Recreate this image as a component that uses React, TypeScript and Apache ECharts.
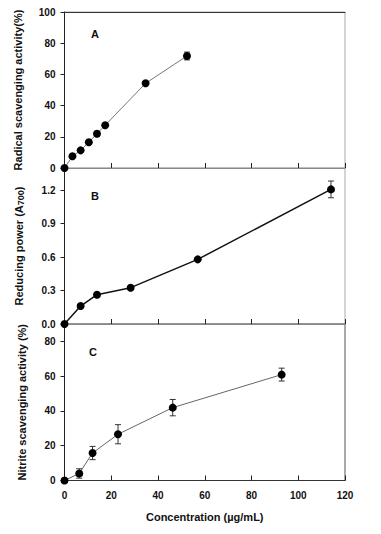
import React, { useEffect, useRef } from "react";
import * as echarts from "echarts";

const concA = [0, 3.4, 6.9, 10.4, 13.9, 17.4, 34.7, 52.4];
const radical = [0, 7.5, 11.3, 16.5, 22, 27.4, 54.3, 71.8];
const errA = [0.5, 1, 1, 1, 1.5, 1, 1, 2.5];

const concB = [0, 6.9, 13.9, 28.3, 57, 114];
const reducing = [0, 0.161, 0.263, 0.326, 0.58, 1.208];
const errB = [0.005, 0.01, 0.012, 0.012, 0.015, 0.075];

const concC = [0, 6.3, 12, 22.9, 46.3, 92.9];
const nitrite = [0, 4.05, 15.8, 26.6, 41.9, 60.9];
const errC = [0.5, 2.7, 3.8, 5.5, 4.7, 3.7];

const FONT = "Liberation Sans, Arial, sans-serif";

function errRender(params: any, api: any) {
  const x = api.value(0);
  const lo = api.coord([x, api.value(1)]);
  const hi = api.coord([x, api.value(2)]);
  const w = 3;
  const style = { stroke: "#333", lineWidth: 1 };
  return {
    type: "group",
    children: [
      { type: "line", shape: { x1: lo[0], y1: lo[1], x2: hi[0], y2: hi[1] }, style },
      { type: "line", shape: { x1: lo[0] - w, y1: lo[1], x2: lo[0] + w, y2: lo[1] }, style },
      { type: "line", shape: { x1: hi[0] - w, y1: hi[1], x2: hi[0] + w, y2: hi[1] }, style },
    ],
  };
}

export default function App() {
  const ref = useRef<HTMLDivElement>(null);
  useEffect(() => {
    if (!ref.current) return;
    const chart = echarts.init(ref.current, null, { renderer: "svg" });
    const tickLabel = { fontFamily: FONT, fontWeight: "bold", fontSize: 10, color: "#111" };
    const xAxisBase = (gi: number, showLabels: boolean, lineColor: string) => ({
      type: "value",
      gridIndex: gi,
      min: 0,
      max: 120,
      interval: 20,
      splitLine: { show: false },
      axisLine: { show: true, lineStyle: { color: lineColor, width: 1 } },
      axisTick: { show: true, inside: true, length: 5, lineStyle: { color: "#222" } },
      axisLabel: showLabels
        ? { ...tickLabel, margin: 10, showMaxLabel: true }
        : { show: false },
    });
    const yAxisBase = (gi: number, max: number, interval: number, name: any, nameGap: number, showMax: boolean, fmt?: any) => ({
      type: "value",
      gridIndex: gi,
      min: 0,
      max,
      interval,
      name,
      nameLocation: "middle",
      nameGap,
      nameRotate: 90,
      nameTextStyle: {
        fontFamily: FONT,
        fontWeight: "bold",
        fontSize: 11,
        color: "#111",
        rich: {
          n: { fontFamily: FONT, fontWeight: "bold", fontSize: 11, color: "#111" },
          sub: { fontFamily: FONT, fontWeight: "bold", fontSize: 9, color: "#111", verticalAlign: "bottom", padding: [4, 0, 0, 0] },
        },
      },
      splitLine: { show: false },
      axisLine: { show: true, lineStyle: { color: "#222", width: 1 } },
      axisTick: { show: true, inside: false, length: 4, lineStyle: { color: "#222" } },
      axisLabel: { ...tickLabel, margin: 9, showMaxLabel: showMax, formatter: fmt },
    });
    const lineSeries = (gi: number, xs: number[], ys: number[], color: string, width: number) => ({
      type: "line",
      xAxisIndex: gi,
      yAxisIndex: gi,
      data: xs.map((x, i) => [x, ys[i]]),
      symbol: "circle",
      symbolSize: 8,
      clip: false,
      lineStyle: { color, width },
      itemStyle: { color: "#000" },
      z: 3,
    });
    const errSeries = (gi: number, xs: number[], ys: number[], es: number[]) => ({
      type: "custom",
      xAxisIndex: gi,
      yAxisIndex: gi,
      data: xs.map((x, i) => [x, ys[i] - es[i], ys[i] + es[i]]),
      encode: { x: 0, y: [1, 2] },
      renderItem: errRender,
      clip: false,
      z: 2,
    });
    const option: any = {
      animation: false,
      backgroundColor: "#fff",
      grid: [
        { left: 64.5, right: 36, top: 12, height: 156, show: true, borderColor: "#aaa", borderWidth: 1 },
        { left: 64.5, right: 36, top: 168, height: 156, show: true, borderColor: "#aaa", borderWidth: 1 },
        { left: 64.5, right: 36, top: 324, height: 156.5, show: true, borderColor: "#555", borderWidth: 1 },
      ],
      xAxis: [
        xAxisBase(0, false, "#888"),
        xAxisBase(1, false, "#888"),
        {
          ...xAxisBase(2, true, "#333"),
          name: "Concentration (µg/mL)",
          nameLocation: "middle",
          nameGap: 31,
          nameTextStyle: { fontFamily: FONT, fontWeight: "bold", fontSize: 11, color: "#111" },
        },
        {
          type: "value",
          gridIndex: 0,
          position: "top",
          min: 0,
          max: 120,
          axisLine: { show: true, lineStyle: { color: "#333" } },
          axisTick: { show: false },
          axisLabel: { show: false },
          splitLine: { show: false },
        },
      ],
      yAxis: [
        yAxisBase(0, 100, 20, "Radical scavenging activity(%)", 41, true),
        yAxisBase(1, 1.4, 0.3, "{n|Reducing power (A}{sub|700}{n|)}", 39, false, (v: number) => v.toFixed(1)),
        yAxisBase(2, 90, 20, "Nitrite scavenging activity (%)", 37, false),
      ],
      graphic: [
        { type: "text", left: 91, top: 28, style: { text: "A", font: `bold 11px ${FONT}`, fill: "#111" } },
        { type: "text", left: 91, top: 190, style: { text: "B", font: `bold 11px ${FONT}`, fill: "#111" } },
        { type: "text", left: 89, top: 346, style: { text: "C", font: `bold 11px ${FONT}`, fill: "#111" } },
      ],
      series: [
        errSeries(0, concA, radical, errA),
        lineSeries(0, concA, radical, "#777", 1),
        errSeries(1, concB, reducing, errB),
        lineSeries(1, concB, reducing, "#111", 1.5),
        errSeries(2, concC, nitrite, errC),
        lineSeries(2, concC, nitrite, "#666", 1),
      ],
    };
    chart.setOption(option);
    return () => chart.dispose();
  }, []);
  return (
    <div
      ref={ref}
      style={{ position: "fixed", left: 0, top: 0, width: 381, height: 534, background: "#fff" }}
    />
  );
}
